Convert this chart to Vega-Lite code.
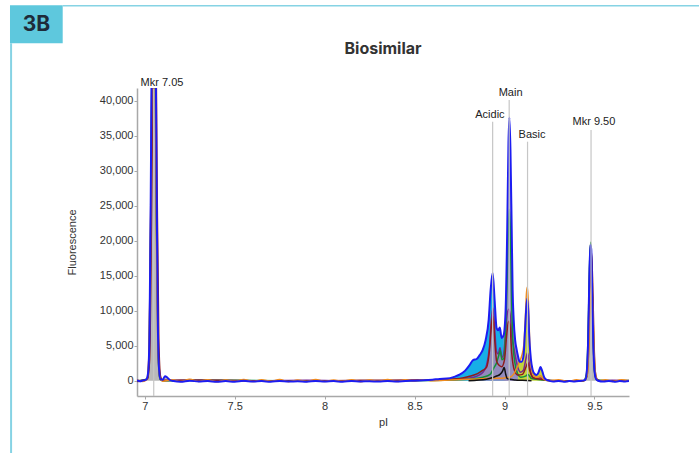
{
  "$schema": "https://vega.github.io/schema/vega-lite/v6.json",
  "autosize": {"type": "none"},
  "padding": {"left": 137, "top": 88, "right": 70, "bottom": 57},
  "width": 492,
  "height": 308,
  "background": "white",
  "title": {"text": "Biosimilar", "font": "Inter", "fontSize": 16, "fontWeight": 700, "color": "#333333", "offset": -52, "anchor": "middle", "frame": "group"},
  "config": {
    "view": {"stroke": null},
    "axis": {"grid": false, "labelOverlap": false, "domainColor": "#a8a8a8", "domainWidth": 1.5, "tickColor": "#a8a8a8", "tickSize": 3, "labelPadding": 1, "labelFont": "Liberation Sans", "labelFontSize": 11, "labelColor": "#333333", "titleFont": "Liberation Sans", "titleFontSize": 11, "titleFontWeight": "normal", "titleColor": "#333333"}
  },
  "datasets": {
    "tr": [
      {"trace":"B","pI":6.957,"fl":60},{"trace":"B","pI":6.975,"fl":-80},{"trace":"B","pI":6.99,"fl":40},{"trace":"B","pI":7.005,"fl":120},{"trace":"B","pI":7.012,"fl":300},{"trace":"B","pI":7.02,"fl":1500},{"trace":"B","pI":7.027,"fl":8000},{"trace":"B","pI":7.033,"fl":25000},{"trace":"B","pI":7.04,"fl":50000},{"trace":"B","pI":7.05,"fl":70000},{"trace":"B","pI":7.06,"fl":50000},{"trace":"B","pI":7.067,"fl":25000},{"trace":"B","pI":7.073,"fl":8000},{"trace":"B","pI":7.08,"fl":1500},{"trace":"B","pI":7.088,"fl":200},{"trace":"B","pI":7.1,"fl":150},{"trace":"B","pI":7.113,"fl":650},{"trace":"B","pI":7.125,"fl":450},{"trace":"B","pI":7.14,"fl":100},{"trace":"B","pI":7.16,"fl":-50},{"trace":"B","pI":7.2,"fl":-150},{"trace":"B","pI":7.25,"fl":0},{"trace":"B","pI":7.3,"fl":-120},{"trace":"B","pI":7.35,"fl":-40},{"trace":"B","pI":7.4,"fl":-160},{"trace":"B","pI":7.45,"fl":-60},{"trace":"B","pI":7.5,"fl":-140},{"trace":"B","pI":7.55,"fl":-20},{"trace":"B","pI":7.6,"fl":-130},{"trace":"B","pI":7.65,"fl":-60},{"trace":"B","pI":7.7,"fl":-150},{"trace":"B","pI":7.75,"fl":-40},{"trace":"B","pI":7.8,"fl":-120},{"trace":"B","pI":7.85,"fl":-80},{"trace":"B","pI":7.9,"fl":-140},{"trace":"B","pI":7.95,"fl":-30},{"trace":"B","pI":8.0,"fl":-120},{"trace":"B","pI":8.05,"fl":-60},{"trace":"B","pI":8.1,"fl":-150},{"trace":"B","pI":8.15,"fl":-40},{"trace":"B","pI":8.2,"fl":-110},{"trace":"B","pI":8.25,"fl":-70},{"trace":"B","pI":8.3,"fl":-130},{"trace":"B","pI":8.35,"fl":-30},{"trace":"B","pI":8.4,"fl":-100},{"trace":"B","pI":8.45,"fl":-40},{"trace":"B","pI":8.5,"fl":0},{"trace":"B","pI":8.55,"fl":60},{"trace":"B","pI":8.6,"fl":150},{"trace":"B","pI":8.64,"fl":250},{"trace":"B","pI":8.68,"fl":300},{"trace":"B","pI":8.72,"fl":550},{"trace":"B","pI":8.75,"fl":850},{"trace":"B","pI":8.78,"fl":1400},{"trace":"B","pI":8.805,"fl":2200},{"trace":"B","pI":8.825,"fl":2950},{"trace":"B","pI":8.845,"fl":3100},{"trace":"B","pI":8.862,"fl":3650},{"trace":"B","pI":8.879,"fl":4400},{"trace":"B","pI":8.895,"fl":5800},{"trace":"B","pI":8.912,"fl":8700},{"trace":"B","pI":8.923,"fl":13000},{"trace":"B","pI":8.934,"fl":15400},{"trace":"B","pI":8.945,"fl":11500},{"trace":"B","pI":8.956,"fl":7500},{"trace":"B","pI":8.965,"fl":7200},{"trace":"B","pI":8.974,"fl":7600},{"trace":"B","pI":8.984,"fl":6100},{"trace":"B","pI":8.995,"fl":6500},{"trace":"B","pI":9.006,"fl":10000},{"trace":"B","pI":9.015,"fl":21500},{"trace":"B","pI":9.022,"fl":34000},{"trace":"B","pI":9.027,"fl":37600},{"trace":"B","pI":9.033,"fl":33000},{"trace":"B","pI":9.04,"fl":21500},{"trace":"B","pI":9.045,"fl":13000},{"trace":"B","pI":9.051,"fl":8700},{"trace":"B","pI":9.059,"fl":5800},{"trace":"B","pI":9.067,"fl":4500},{"trace":"B","pI":9.075,"fl":3500},{"trace":"B","pI":9.084,"fl":2700},{"trace":"B","pI":9.095,"fl":2700},{"trace":"B","pI":9.106,"fl":3650},{"trace":"B","pI":9.114,"fl":7200},{"trace":"B","pI":9.12,"fl":10000},{"trace":"B","pI":9.126,"fl":11700},{"trace":"B","pI":9.132,"fl":10000},{"trace":"B","pI":9.137,"fl":6500},{"trace":"B","pI":9.146,"fl":3200},{"trace":"B","pI":9.157,"fl":1500},{"trace":"B","pI":9.168,"fl":950},{"trace":"B","pI":9.179,"fl":800},{"trace":"B","pI":9.19,"fl":1250},{"trace":"B","pI":9.2,"fl":1950},{"trace":"B","pI":9.211,"fl":1250},{"trace":"B","pI":9.222,"fl":400},{"trace":"B","pI":9.24,"fl":50},{"trace":"B","pI":9.27,"fl":-100},{"trace":"B","pI":9.3,"fl":-40},{"trace":"B","pI":9.33,"fl":-140},{"trace":"B","pI":9.36,"fl":-60},{"trace":"B","pI":9.39,"fl":-120},{"trace":"B","pI":9.42,"fl":-30},{"trace":"B","pI":9.44,"fl":50},{"trace":"B","pI":9.45,"fl":150},{"trace":"B","pI":9.458,"fl":1500},{"trace":"B","pI":9.465,"fl":6000},{"trace":"B","pI":9.471,"fl":14000},{"trace":"B","pI":9.477,"fl":19400},{"trace":"B","pI":9.482,"fl":18800},{"trace":"B","pI":9.488,"fl":12000},{"trace":"B","pI":9.494,"fl":5000},{"trace":"B","pI":9.5,"fl":1500},{"trace":"B","pI":9.508,"fl":300},{"trace":"B","pI":9.52,"fl":0},{"trace":"B","pI":9.55,"fl":-120},{"trace":"B","pI":9.58,"fl":-40},{"trace":"B","pI":9.61,"fl":-140},{"trace":"B","pI":9.64,"fl":-60},{"trace":"B","pI":9.67,"fl":-110},{"trace":"B","pI":9.692,"fl":-50},

      {"trace":"P","pI":6.957,"fl":-100},{"trace":"P","pI":7.0,"fl":0},{"trace":"P","pI":7.015,"fl":400},{"trace":"P","pI":7.025,"fl":5000},{"trace":"P","pI":7.035,"fl":30000},{"trace":"P","pI":7.045,"fl":60000},{"trace":"P","pI":7.055,"fl":55000},{"trace":"P","pI":7.065,"fl":25000},{"trace":"P","pI":7.075,"fl":4000},{"trace":"P","pI":7.085,"fl":300},{"trace":"P","pI":7.1,"fl":0},{"trace":"P","pI":7.3,"fl":100},{"trace":"P","pI":7.6,"fl":-50},{"trace":"P","pI":7.9,"fl":80},{"trace":"P","pI":8.2,"fl":-60},{"trace":"P","pI":8.5,"fl":50},{"trace":"P","pI":8.7,"fl":150},{"trace":"P","pI":8.8,"fl":350},{"trace":"P","pI":8.85,"fl":700},{"trace":"P","pI":8.88,"fl":1200},{"trace":"P","pI":8.9,"fl":2200},{"trace":"P","pI":8.915,"fl":4500},{"trace":"P","pI":8.928,"fl":9000},{"trace":"P","pI":8.936,"fl":10400},{"trace":"P","pI":8.944,"fl":8000},{"trace":"P","pI":8.955,"fl":4200},{"trace":"P","pI":8.965,"fl":3800},{"trace":"P","pI":8.975,"fl":4700},{"trace":"P","pI":8.985,"fl":3300},{"trace":"P","pI":8.995,"fl":3800},{"trace":"P","pI":9.005,"fl":6500},{"trace":"P","pI":9.015,"fl":9500},{"trace":"P","pI":9.024,"fl":10200},{"trace":"P","pI":9.033,"fl":9000},{"trace":"P","pI":9.042,"fl":6000},{"trace":"P","pI":9.05,"fl":5000},{"trace":"P","pI":9.06,"fl":3500},{"trace":"P","pI":9.075,"fl":1800},{"trace":"P","pI":9.09,"fl":1200},{"trace":"P","pI":9.105,"fl":1500},{"trace":"P","pI":9.118,"fl":3000},{"trace":"P","pI":9.128,"fl":4000},{"trace":"P","pI":9.138,"fl":2500},{"trace":"P","pI":9.15,"fl":800},{"trace":"P","pI":9.17,"fl":300},{"trace":"P","pI":9.2,"fl":400},{"trace":"P","pI":9.23,"fl":100},{"trace":"P","pI":9.3,"fl":-50},{"trace":"P","pI":9.44,"fl":0},{"trace":"P","pI":9.455,"fl":800},{"trace":"P","pI":9.465,"fl":6000},{"trace":"P","pI":9.472,"fl":15000},{"trace":"P","pI":9.478,"fl":19600},{"trace":"P","pI":9.485,"fl":16000},{"trace":"P","pI":9.492,"fl":7000},{"trace":"P","pI":9.5,"fl":1500},{"trace":"P","pI":9.51,"fl":200},{"trace":"P","pI":9.53,"fl":0},{"trace":"P","pI":9.6,"fl":50},{"trace":"P","pI":9.692,"fl":-30},

      {"trace":"G","pI":6.957,"fl":0},{"trace":"G","pI":7.015,"fl":300},{"trace":"G","pI":7.025,"fl":4000},{"trace":"G","pI":7.035,"fl":28000},{"trace":"G","pI":7.045,"fl":58000},{"trace":"G","pI":7.055,"fl":52000},{"trace":"G","pI":7.065,"fl":22000},{"trace":"G","pI":7.075,"fl":3500},{"trace":"G","pI":7.085,"fl":200},{"trace":"G","pI":7.1,"fl":0},{"trace":"G","pI":7.5,"fl":50},{"trace":"G","pI":8.0,"fl":-50},{"trace":"G","pI":8.5,"fl":0},{"trace":"G","pI":8.8,"fl":200},{"trace":"G","pI":8.88,"fl":500},{"trace":"G","pI":8.92,"fl":900},{"trace":"G","pI":8.94,"fl":1800},{"trace":"G","pI":8.955,"fl":2500},{"trace":"G","pI":8.968,"fl":3600},{"trace":"G","pI":8.976,"fl":4300},{"trace":"G","pI":8.986,"fl":3000},{"trace":"G","pI":8.996,"fl":3200},{"trace":"G","pI":9.006,"fl":7000},{"trace":"G","pI":9.015,"fl":15000},{"trace":"G","pI":9.022,"fl":22000},{"trace":"G","pI":9.027,"fl":24500},{"trace":"G","pI":9.033,"fl":21000},{"trace":"G","pI":9.04,"fl":11000},{"trace":"G","pI":9.048,"fl":5000},{"trace":"G","pI":9.058,"fl":2500},{"trace":"G","pI":9.07,"fl":1200},{"trace":"G","pI":9.09,"fl":500},{"trace":"G","pI":9.12,"fl":700},{"trace":"G","pI":9.13,"fl":900},{"trace":"G","pI":9.15,"fl":300},{"trace":"G","pI":9.2,"fl":150},{"trace":"G","pI":9.3,"fl":0},{"trace":"G","pI":9.44,"fl":0},{"trace":"G","pI":9.455,"fl":900},{"trace":"G","pI":9.465,"fl":7000},{"trace":"G","pI":9.472,"fl":16000},{"trace":"G","pI":9.479,"fl":19800},{"trace":"G","pI":9.486,"fl":15000},{"trace":"G","pI":9.493,"fl":6000},{"trace":"G","pI":9.502,"fl":1000},{"trace":"G","pI":9.515,"fl":100},{"trace":"G","pI":9.6,"fl":0},{"trace":"G","pI":9.692,"fl":20},

      {"trace":"D","pI":6.957,"fl":-60},{"trace":"D","pI":7.015,"fl":200},{"trace":"D","pI":7.027,"fl":3000},{"trace":"D","pI":7.037,"fl":22000},{"trace":"D","pI":7.048,"fl":52000},{"trace":"D","pI":7.058,"fl":60000},{"trace":"D","pI":7.068,"fl":30000},{"trace":"D","pI":7.078,"fl":6000},{"trace":"D","pI":7.088,"fl":600},{"trace":"D","pI":7.1,"fl":50},{"trace":"D","pI":7.4,"fl":80},{"trace":"D","pI":7.8,"fl":-60},{"trace":"D","pI":8.2,"fl":50},{"trace":"D","pI":8.6,"fl":100},{"trace":"D","pI":8.75,"fl":300},{"trace":"D","pI":8.8,"fl":600},{"trace":"D","pI":8.85,"fl":1000},{"trace":"D","pI":8.88,"fl":1500},{"trace":"D","pI":8.9,"fl":1900},{"trace":"D","pI":8.915,"fl":4000},{"trace":"D","pI":8.928,"fl":8000},{"trace":"D","pI":8.936,"fl":9200},{"trace":"D","pI":8.945,"fl":6000},{"trace":"D","pI":8.956,"fl":2800},{"trace":"D","pI":8.97,"fl":2200},{"trace":"D","pI":8.985,"fl":2000},{"trace":"D","pI":9.0,"fl":3000},{"trace":"D","pI":9.012,"fl":6500},{"trace":"D","pI":9.022,"fl":8500},{"trace":"D","pI":9.03,"fl":8000},{"trace":"D","pI":9.04,"fl":4000},{"trace":"D","pI":9.055,"fl":1500},{"trace":"D","pI":9.075,"fl":800},{"trace":"D","pI":9.1,"fl":900},{"trace":"D","pI":9.12,"fl":2000},{"trace":"D","pI":9.13,"fl":2600},{"trace":"D","pI":9.14,"fl":1500},{"trace":"D","pI":9.16,"fl":400},{"trace":"D","pI":9.2,"fl":200},{"trace":"D","pI":9.3,"fl":-40},{"trace":"D","pI":9.44,"fl":0},{"trace":"D","pI":9.458,"fl":600},{"trace":"D","pI":9.468,"fl":5000},{"trace":"D","pI":9.476,"fl":14000},{"trace":"D","pI":9.483,"fl":18500},{"trace":"D","pI":9.49,"fl":14000},{"trace":"D","pI":9.497,"fl":6000},{"trace":"D","pI":9.505,"fl":1200},{"trace":"D","pI":9.515,"fl":200},{"trace":"D","pI":9.53,"fl":0},{"trace":"D","pI":9.692,"fl":40},

      {"trace":"O","pI":6.957,"fl":120},{"trace":"O","pI":6.99,"fl":-100},{"trace":"O","pI":7.012,"fl":200},{"trace":"O","pI":7.022,"fl":3000},{"trace":"O","pI":7.032,"fl":20000},{"trace":"O","pI":7.042,"fl":50000},{"trace":"O","pI":7.05,"fl":62000},{"trace":"O","pI":7.058,"fl":45000},{"trace":"O","pI":7.066,"fl":18000},{"trace":"O","pI":7.076,"fl":3000},{"trace":"O","pI":7.086,"fl":300},{"trace":"O","pI":7.1,"fl":-80},{"trace":"O","pI":7.15,"fl":150},{"trace":"O","pI":7.2,"fl":-120},{"trace":"O","pI":7.25,"fl":200},{"trace":"O","pI":7.3,"fl":-100},{"trace":"O","pI":7.35,"fl":150},{"trace":"O","pI":7.4,"fl":-150},{"trace":"O","pI":7.45,"fl":100},{"trace":"O","pI":7.5,"fl":-80},{"trace":"O","pI":7.55,"fl":180},{"trace":"O","pI":7.6,"fl":-130},{"trace":"O","pI":7.65,"fl":120},{"trace":"O","pI":7.7,"fl":-90},{"trace":"O","pI":7.75,"fl":160},{"trace":"O","pI":7.8,"fl":-140},{"trace":"O","pI":7.85,"fl":90},{"trace":"O","pI":7.9,"fl":-100},{"trace":"O","pI":7.95,"fl":170},{"trace":"O","pI":8.0,"fl":-120},{"trace":"O","pI":8.05,"fl":110},{"trace":"O","pI":8.1,"fl":-90},{"trace":"O","pI":8.15,"fl":150},{"trace":"O","pI":8.2,"fl":-140},{"trace":"O","pI":8.25,"fl":100},{"trace":"O","pI":8.3,"fl":-80},{"trace":"O","pI":8.35,"fl":160},{"trace":"O","pI":8.4,"fl":-120},{"trace":"O","pI":8.45,"fl":130},{"trace":"O","pI":8.5,"fl":-60},{"trace":"O","pI":8.55,"fl":150},{"trace":"O","pI":8.6,"fl":0},{"trace":"O","pI":8.7,"fl":100},{"trace":"O","pI":8.8,"fl":200},{"trace":"O","pI":8.9,"fl":300},{"trace":"O","pI":8.95,"fl":350},{"trace":"O","pI":9.0,"fl":400},{"trace":"O","pI":9.03,"fl":500},{"trace":"O","pI":9.05,"fl":900},{"trace":"O","pI":9.065,"fl":1600},{"trace":"O","pI":9.08,"fl":2500},{"trace":"O","pI":9.095,"fl":3500},{"trace":"O","pI":9.107,"fl":5000},{"trace":"O","pI":9.116,"fl":9000},{"trace":"O","pI":9.122,"fl":12500},{"trace":"O","pI":9.127,"fl":13400},{"trace":"O","pI":9.133,"fl":11000},{"trace":"O","pI":9.14,"fl":5500},{"trace":"O","pI":9.15,"fl":1800},{"trace":"O","pI":9.165,"fl":700},{"trace":"O","pI":9.185,"fl":500},{"trace":"O","pI":9.2,"fl":700},{"trace":"O","pI":9.215,"fl":300},{"trace":"O","pI":9.24,"fl":0},{"trace":"O","pI":9.3,"fl":150},{"trace":"O","pI":9.35,"fl":-100},{"trace":"O","pI":9.4,"fl":120},{"trace":"O","pI":9.44,"fl":0},{"trace":"O","pI":9.46,"fl":800},{"trace":"O","pI":9.469,"fl":5000},{"trace":"O","pI":9.477,"fl":11000},{"trace":"O","pI":9.484,"fl":13500},{"trace":"O","pI":9.491,"fl":10000},{"trace":"O","pI":9.498,"fl":4000},{"trace":"O","pI":9.507,"fl":800},{"trace":"O","pI":9.52,"fl":0},{"trace":"O","pI":9.56,"fl":150},{"trace":"O","pI":9.6,"fl":-100},{"trace":"O","pI":9.65,"fl":120},{"trace":"O","pI":9.692,"fl":-60},

      {"trace":"K","pI":8.8,"fl":0},{"trace":"K","pI":8.9,"fl":200},{"trace":"K","pI":8.94,"fl":500},{"trace":"K","pI":8.96,"fl":700},{"trace":"K","pI":8.975,"fl":900},{"trace":"K","pI":8.99,"fl":1400},{"trace":"K","pI":8.998,"fl":1900},{"trace":"K","pI":9.006,"fl":1000},{"trace":"K","pI":9.015,"fl":300},{"trace":"K","pI":9.03,"fl":200},{"trace":"K","pI":9.06,"fl":100},{"trace":"K","pI":9.1,"fl":50},{"trace":"K","pI":9.15,"fl":0}
    ],
    "ann": [
      {"label":"Mkr 7.05","pI":7.05,"top":41670,"labelPI":7.096,"labelFl":42571},
      {"label":"Acidic","pI":8.934,"top":37000,"labelPI":8.919,"labelFl":37957},
      {"label":"Main","pI":9.026,"top":40100,"labelPI":9.034,"labelFl":41057},
      {"label":"Basic","pI":9.128,"top":34143,"labelPI":9.153,"labelFl":35100},
      {"label":"Mkr 9.50","pI":9.481,"top":35814,"labelPI":9.497,"labelFl":36957}
    ]
  },
  "layer": [
    {
      "encoding": {
        "x": {"field": "pI", "type": "quantitative", "title": "pI", "scale": {"domain": [6.957, 9.692], "nice": false, "zero": false},
          "axis": {"values": [7, 7.5, 8, 8.5, 9, 9.5], "tickCount": 20, "format": "~g", "titlePadding": 5}},
        "y": {"field": "fl", "type": "quantitative", "title": "Fluorescence", "scale": {"domain": [-2186, 41814], "nice": false, "zero": false},
          "axis": {"values": [0, 5000, 10000, 15000, 20000, 25000, 30000, 35000, 40000], "tickCount": 20, "labelOverlap": false, "format": ",d", "titlePadding": 22}}
      },
      "layer": [
        {"data": {"name": "tr"}, "transform": [{"filter": "datum.trace === 'B' && datum.pI >= 8.6 && datum.pI <= 9.006"}],
          "mark": {"type": "area", "interpolate": "monotone", "clip": true, "color": "#17aee6", "opacity": 1},
          "encoding": {"y2": {"datum": 0}}},
        {"data": {"name": "tr"}, "transform": [{"filter": "datum.trace === 'B' && datum.pI <= 7.15"}],
          "mark": {"type": "area", "interpolate": "monotone", "clip": true, "color": "#b9b9b9"},
          "encoding": {"y2": {"datum": 0}}},
        {"data": {"name": "tr"}, "transform": [{"filter": "datum.trace === 'B' && datum.pI >= 9.42"}],
          "mark": {"type": "area", "interpolate": "monotone", "clip": true, "color": "#b9b9b9"},
          "encoding": {"y2": {"datum": 0}}},
        {"data": {"name": "tr"}, "transform": [{"filter": "datum.trace === 'P' && datum.pI >= 8.85 && datum.pI <= 9.09"}],
          "mark": {"type": "area", "interpolate": "monotone", "clip": true, "color": "#928bbd"},
          "encoding": {"y2": {"datum": 0}}},
        {"data": {"name": "tr"}, "transform": [{"filter": "datum.trace === 'B' && datum.pI >= 8.995 && datum.pI <= 9.084"}],
          "mark": {"type": "area", "interpolate": "monotone", "clip": true, "color": "#968fbf"},
          "encoding": {"y2": {"datum": 0}}},
        {"data": {"name": "tr"}, "transform": [{"filter": "datum.trace === 'B' && datum.pI >= 9.075 && datum.pI <= 9.24"}],
          "mark": {"type": "area", "interpolate": "monotone", "clip": true, "color": "#c2d43c"},
          "encoding": {"y2": {"datum": 0}}},
        {"data": {"name": "tr"}, "transform": [{"filter": "indexof(['P','G','D','O','K'], datum.trace) >= 0"}],
          "mark": {"type": "line", "interpolate": "monotone", "clip": true, "strokeWidth": 1.5},
          "encoding": {"color": {"field": "trace", "type": "nominal", "legend": null,
            "scale": {"domain": ["P", "G", "D", "O", "K"], "range": ["#7a2590", "#12903a", "#8e1c1c", "#f08c1e", "#111111"]}}}},
        {"data": {"name": "tr"}, "transform": [{"filter": "datum.trace === 'B'"}],
          "mark": {"type": "line", "interpolate": "monotone", "clip": true, "strokeWidth": 2, "color": "#1c1cf2"},
          "encoding": {}},
        {"data": {"name": "ann"}, "mark": {"type": "rule", "color": "#c6c6c6", "strokeWidth": 1.2},
          "encoding": {"y": {"field": "top", "type": "quantitative"}, "y2": {"datum": -2186}}},
        {"data": {"name": "ann"}, "mark": {"type": "text", "font": "Liberation Sans", "fontSize": 11, "color": "#222222", "align": "center", "baseline": "middle"},
          "encoding": {"x": {"field": "labelPI", "type": "quantitative"}, "y": {"field": "labelFl", "type": "quantitative"}, "text": {"field": "label"}}}
      ]
    },
    {"data": {"values": [{}]}, "mark": {"type": "rect", "color": "#5ec8dd"},
      "encoding": {"x": {"datum": 6.251}, "x2": {"datum": 6.544}, "y": {"datum": 53628}, "y2": {"datum": 48200}}},
    {"data": {"values": [{}]}, "mark": {"type": "rule", "color": "#86d3e4", "strokeWidth": 1.5},
      "encoding": {"x": {"datum": 6.544}, "x2": {"datum": 10.09}, "y": {"datum": 53560}}},
    {"data": {"values": [{}]}, "mark": {"type": "rule", "color": "#86d3e4", "strokeWidth": 2},
      "encoding": {"x": {"datum": 6.257}, "y": {"datum": 48200}, "y2": {"datum": -10700}}},
    {"data": {"values": [{"t": "3B"}]}, "mark": {"type": "text", "font": "Inter", "fontSize": 21, "fontWeight": 700, "color": "#1e2b3a", "align": "center", "baseline": "middle"},
      "encoding": {"x": {"datum": 6.3975}, "y": {"datum": 50850}, "text": {"field": "t"}}}
  ]
}
